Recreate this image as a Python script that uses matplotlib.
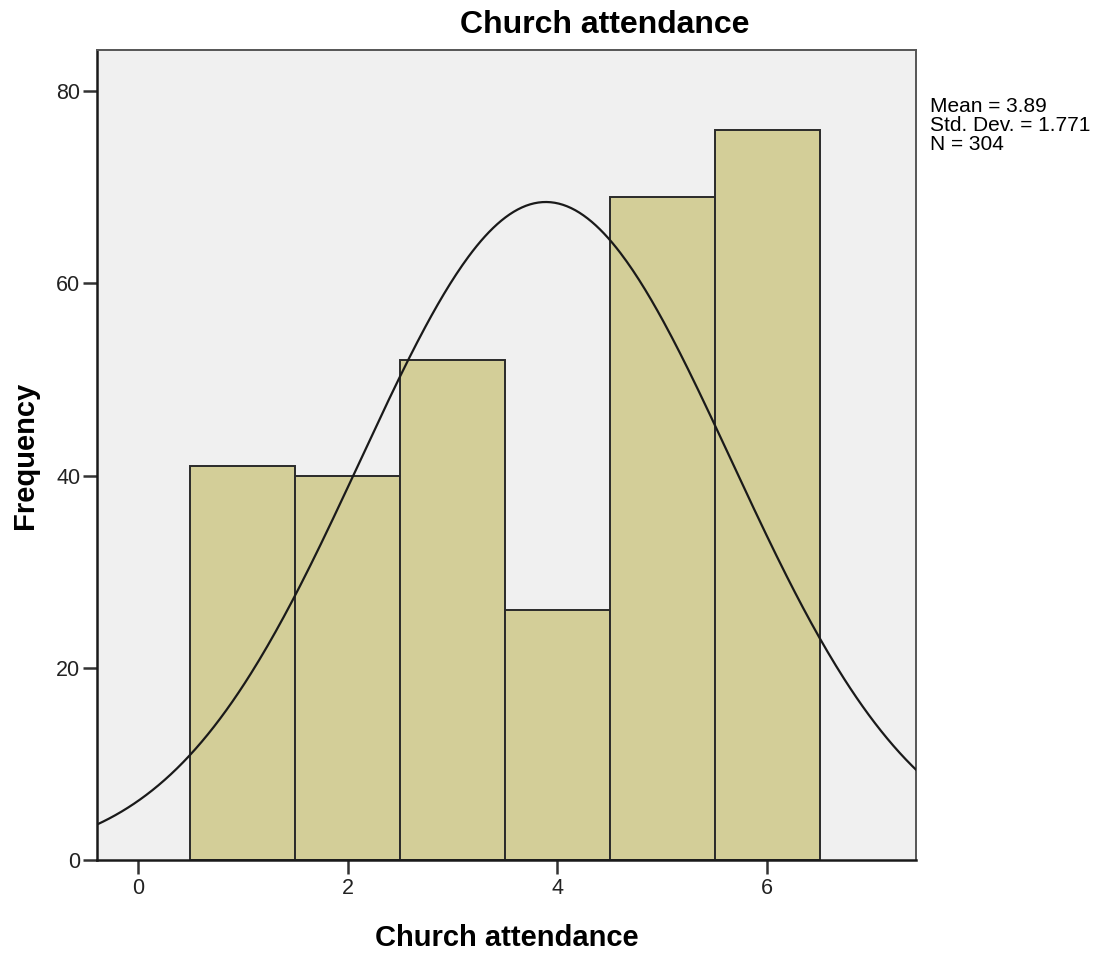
import numpy as np
import matplotlib
matplotlib.use("Agg")
import matplotlib.pyplot as plt

# Church attendance categories and their frequencies
categories = [1, 2, 3, 4, 5, 6]
frequencies = [41, 40, 52, 26, 69, 76]
mean_val = 3.89
std_val = 1.771
n_val = 304

plt.rcParams['font.family'] = ['Liberation Sans', 'DejaVu Sans']

fig = plt.figure(figsize=(11.03, 9.56), dpi=100)
ax = fig.add_axes([0.0879, 0.1004, 0.8305 - 0.0879, 0.9477 - 0.1004])
ax.set_facecolor('#F0F0F0')

ax.bar(categories, frequencies, width=1.0, color='#D3CE98',
       edgecolor='#2a2a2a', linewidth=1.4, zorder=2)

# Normal curve scaled to counts (bin width 1)
xs = np.linspace(-0.39, 7.42, 400)
ys = n_val * 1.0 / (std_val * np.sqrt(2 * np.pi)) * np.exp(-0.5 * ((xs - mean_val) / std_val) ** 2)
ax.plot(xs, ys, color='#1a1a1a', linewidth=1.6, zorder=3)

ax.set_xlim(-0.39, 7.42)
ax.set_ylim(0, 84.3)
ax.set_xticks([0, 2, 4, 6])
ax.set_yticks([0, 20, 40, 60, 80])
ax.tick_params(axis='both', labelsize=15.5, length=10, width=1.8, color='#333333',
               labelcolor='#222222')
ax.tick_params(axis='x', pad=3)
ax.tick_params(axis='y', pad=2)

for side in ['left', 'bottom']:
    ax.spines[side].set_color('#1a1a1a')
    ax.spines[side].set_linewidth(1.8)
for side in ['top', 'right']:
    ax.spines[side].set_color('#555555')
    ax.spines[side].set_linewidth(1.4)

fig.text(605 / 1103, 1 - 25 / 956, 'Church attendance', fontsize=23, fontweight='bold',
         ha='center', va='center')
ax.set_xlabel('Church attendance', fontsize=21, fontweight='bold', labelpad=18)
ax.set_ylabel('Frequency', fontsize=21, fontweight='bold', labelpad=12)

fig.text(0.8432, 0.899, 'Mean = %.2f\nStd. Dev. = %.3f\nN = %d' % (mean_val, std_val, n_val),
         fontsize=15, va='top', ha='left', linespacing=1.0)

fig.savefig('out.png', dpi=100)
